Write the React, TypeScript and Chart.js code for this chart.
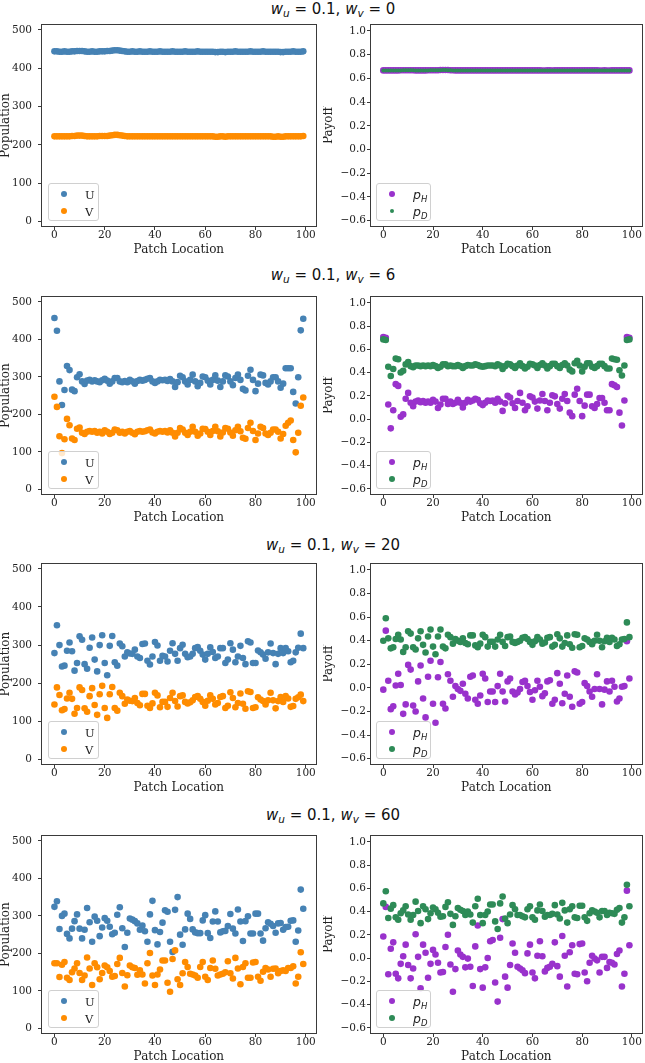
import React, { useEffect, useRef } from 'react';
import { Chart, registerables } from 'chart.js';

Chart.register(...registerables);

// ---------- data ----------
const PATCHES: number[] = Array.from({ length: 100 }, (_, i) => i);
const X_TICKS = [0, 20, 40, 60, 80, 100];
const POP_TICKS = [0, 100, 200, 300, 400, 500];
const PAY_TICKS = [-0.6, -0.4, -0.2, 0, 0.2, 0.4, 0.6, 0.8, 1.0];
const WV_VALUES = ['0', '6', '20', '60'];

const U_WV0 = [444,444,443,443,444,443,443,444,444,445,445,445,444,443,443,444,443,443,444,444,444,445,445,446,447,447,446,445,444,443,
  443,444,443,443,444,443,443,443,444,443,443,443,444,443,443,443,443,444,443,443,
  443,443,444,443,443,443,443,444,443,443,443,443,443,443,442,442,443,443,442,443,
  443,443,444,443,443,443,443,443,444,443,443,443,443,444,443,443,443,443,443,443,
  442,442,443,443,443,444,443,443,443,444];
const V_WV0 = [222,222,222,222,222,222,222,223,223,224,224,224,223,222,222,222,222,222,223,223,223,223,224,225,226,226,225,224,223,222,
  222,222,222,222,222,222,222,222,222,222,222,222,222,222,222,222,222,222,222,222,
  222,222,222,222,222,222,222,222,222,222,222,222,222,222,221,221,222,222,221,222,
  222,222,222,222,222,222,222,222,222,222,222,222,222,222,222,222,222,221,221,222,
  221,221,222,222,222,222,222,222,222,223];
const PH_WV0 = [0.667,0.667,0.667,0.667,0.667,0.667,0.667,0.668,0.668,0.669,0.669,0.669,0.668,0.667,0.667,0.667,0.667,0.667,0.668,0.668,0.668,0.668,0.669,0.670,0.671,0.671,0.670,0.669,0.668,0.667,
  0.667,0.667,0.667,0.667,0.667,0.667,0.667,0.667,0.667,0.667,0.667,0.667,0.667,0.667,0.667,0.667,0.667,0.667,0.667,0.667,
  0.667,0.667,0.667,0.667,0.667,0.667,0.667,0.667,0.667,0.667,0.667,0.667,0.667,0.667,0.666,0.666,0.667,0.667,0.666,0.667,
  0.667,0.667,0.667,0.667,0.667,0.667,0.667,0.667,0.667,0.667,0.667,0.667,0.667,0.667,0.667,0.667,0.667,0.666,0.666,0.667,
  0.666,0.666,0.667,0.667,0.667,0.667,0.667,0.667,0.667,0.667];
const PD_WV0 = [0.667,0.667,0.667,0.667,0.667,0.667,0.667,0.667,0.668,0.668,0.668,0.668,0.668,0.667,0.667,0.667,0.667,0.667,0.667,0.668,0.668,0.668,0.668,0.669,0.670,0.670,0.669,0.668,0.667,0.667,
  0.667,0.667,0.667,0.667,0.667,0.667,0.667,0.667,0.667,0.667,0.667,0.667,0.667,0.667,0.667,0.667,0.667,0.667,0.667,0.667,
  0.667,0.667,0.667,0.667,0.667,0.667,0.667,0.667,0.667,0.667,0.667,0.667,0.667,0.667,0.666,0.666,0.667,0.667,0.666,0.667,
  0.667,0.667,0.667,0.667,0.667,0.667,0.667,0.667,0.667,0.667,0.667,0.667,0.667,0.667,0.667,0.667,0.667,0.666,0.666,0.667,
  0.666,0.666,0.667,0.667,0.667,0.667,0.667,0.667,0.667,0.667];

const U_WV6 = [457,423,288,225,265,329,318,266,262,299,
  307,288,281,290,292,288,291,288,286,291,
  295,290,282,288,297,297,288,286,289,286,
  292,288,282,289,292,290,292,295,297,288,
  284,288,292,291,292,289,294,288,273,286,
  303,299,288,280,292,306,288,275,284,301,
  299,290,280,292,304,290,273,288,304,301,
  288,278,297,306,292,268,264,303,319,292,
  262,282,306,304,284,280,288,299,299,288,
  271,282,323,323,323,260,229,299,424,455];
const V_WV6 = [247,220,142,97,134,188,171,136,132,162,
  165,151,148,154,156,154,156,151,154,149,
  158,154,148,151,160,158,151,154,149,154,
  156,151,147,154,156,154,155,158,160,152,
  149,154,156,154,156,152,158,151,141,151,
  164,160,151,145,154,167,154,143,149,162,
  161,154,145,156,167,155,141,152,164,162,
  152,143,158,167,155,138,135,164,178,156,
  132,149,167,164,149,145,151,160,160,154,
  136,148,170,178,184,132,99,151,223,245];
const PH_WV6 = [0.705,0.70,0.125,-0.08,0.075,0.30,0.285,0.02,0.04,0.175,
  0.225,0.14,0.11,0.15,0.16,0.145,0.155,0.14,0.15,0.14,
  0.165,0.15,0.095,0.125,0.175,0.175,0.13,0.15,0.13,0.14,
  0.165,0.14,0.10,0.14,0.165,0.15,0.16,0.175,0.165,0.135,
  0.12,0.14,0.16,0.155,0.16,0.14,0.175,0.15,0.07,0.135,
  0.20,0.185,0.135,0.095,0.155,0.225,0.14,0.075,0.11,0.195,
  0.185,0.15,0.09,0.16,0.215,0.155,0.075,0.14,0.205,0.195,
  0.13,0.09,0.175,0.215,0.155,0.055,0.025,0.21,0.26,0.155,
  0.025,0.115,0.21,0.21,0.11,0.095,0.13,0.18,0.18,0.14,
  0.075,0.075,0.30,0.29,0.275,0.055,-0.055,0.16,0.705,0.70];
const PD_WV6 = [0.685,0.68,0.45,0.37,0.43,0.52,0.515,0.40,0.415,0.47,
  0.49,0.455,0.445,0.46,0.46,0.455,0.46,0.455,0.46,0.455,
  0.465,0.455,0.44,0.45,0.47,0.47,0.455,0.46,0.455,0.455,
  0.465,0.455,0.44,0.455,0.465,0.46,0.46,0.47,0.465,0.455,
  0.45,0.455,0.46,0.46,0.46,0.455,0.47,0.46,0.43,0.455,
  0.475,0.47,0.455,0.44,0.46,0.48,0.455,0.435,0.45,0.475,
  0.47,0.46,0.44,0.465,0.48,0.46,0.435,0.455,0.475,0.475,
  0.455,0.44,0.465,0.48,0.46,0.425,0.41,0.48,0.50,0.46,
  0.41,0.45,0.48,0.48,0.45,0.44,0.455,0.475,0.475,0.455,
  0.435,0.435,0.52,0.515,0.51,0.42,0.375,0.46,0.68,0.685];

const U_WV20 = [279,352,300,244,246,285,307,284,233,253,
  323,314,250,238,293,320,262,231,300,326,
  253,221,298,324,255,246,304,297,270,281,
  278,277,288,270,266,303,304,259,249,270,
  308,299,259,272,270,257,285,305,277,259,
  292,301,277,268,270,277,292,295,285,275,
  262,277,294,282,266,270,292,292,253,262,
  305,288,255,270,298,266,250,310,307,253,
  253,286,281,275,264,281,304,279,250,277,
  292,279,292,284,255,259,281,293,330,292];
const V_WV20 = [144,189,169,129,132,160,175,159,120,135,
  189,182,134,125,166,187,143,117,171,193,
  135,109,171,190,135,128,175,166,146,157,
  154,153,161,148,142,172,172,141,135,147,
  175,168,137,151,151,138,161,175,153,139,
  166,168,151,147,150,155,164,166,159,151,
  141,154,168,159,144,148,164,166,135,141,
  176,161,137,148,173,146,133,179,177,135,
  137,163,157,153,144,155,175,155,134,153,
  164,151,166,160,138,140,159,163,170,153];
const PH_WV20 = [-0.015,0.485,0.06,-0.18,-0.155,0.02,0.12,0.025,-0.22,-0.14,
  0.195,0.155,-0.15,-0.2,0.055,0.19,-0.09,-0.25,0.095,0.23,
  -0.135,-0.295,0.09,0.22,-0.135,-0.175,0.115,0.06,-0.075,0.015,
  -0.01,-0.025,0.035,-0.05,-0.09,0.095,0.105,-0.1,-0.135,-0.065,
  0.12,0.08,-0.12,-0.03,-0.03,-0.12,0.015,0.12,-0.03,-0.115,
  0.055,0.08,-0.03,-0.055,-0.04,-0.01,0.05,0.06,0.015,-0.035,
  -0.1,-0.02,0.06,0.01,-0.07,-0.045,0.055,0.065,-0.135,-0.1,
  0.125,0.035,-0.13,-0.05,0.105,-0.075,-0.16,0.14,0.13,-0.135,
  -0.12,0.04,0.015,-0.03,-0.075,-0.01,0.115,-0.01,-0.14,-0.015,
  0.055,-0.03,0.06,0.01,-0.115,-0.09,0.01,0.015,0.395,0.08];
const PD_WV20 = [0.40,0.59,0.42,0.335,0.345,0.415,0.45,0.41,0.305,0.345,
  0.48,0.46,0.345,0.325,0.42,0.48,0.365,0.30,0.435,0.495,
  0.35,0.285,0.435,0.495,0.35,0.335,0.45,0.43,0.375,0.415,
  0.40,0.39,0.42,0.38,0.37,0.445,0.445,0.36,0.345,0.375,
  0.45,0.43,0.35,0.39,0.39,0.35,0.41,0.45,0.39,0.355,
  0.43,0.435,0.39,0.38,0.39,0.40,0.425,0.43,0.415,0.39,
  0.365,0.395,0.43,0.41,0.375,0.385,0.425,0.43,0.35,0.365,
  0.455,0.42,0.35,0.38,0.445,0.37,0.34,0.455,0.45,0.345,
  0.355,0.42,0.41,0.39,0.37,0.40,0.45,0.40,0.345,0.395,
  0.425,0.39,0.425,0.41,0.355,0.37,0.41,0.415,0.555,0.43];

const U_WV60 = [324,339,265,300,306,252,240,266,286,304,
  266,240,263,321,283,231,298,287,246,269,
  294,287,271,251,255,303,323,267,217,255,
  293,290,286,280,263,274,259,231,304,340,
  262,224,257,282,315,311,231,204,316,350,
  250,223,264,306,292,264,256,254,254,288,
  302,254,241,285,312,285,256,259,260,273,
  305,266,253,317,285,233,286,299,253,253,
  306,306,253,234,267,283,279,273,255,280,
  281,263,270,271,287,288,231,261,370,319];
const V_WV60 = [174,174,137,170,177,135,129,150,160,174,
  148,129,141,189,160,116,174,163,131,148,
  168,163,153,138,140,172,188,148,112,142,
  168,163,161,143,155,144,120,174,201,141,
  116,144,157,181,181,122,98,185,208,131,
  116,147,177,164,146,144,141,135,164,177,
  138,129,161,181,159,141,144,146,150,179,
  147,133,188,160,118,164,174,135,135,176,
  177,138,127,151,161,157,138,159,160,147,
  153,155,153,161,161,166,120,138,203,172];
const PH_WV60 = [0.185,0.44,-0.14,0.08,0.135,-0.135,-0.175,-0.05,0.015,0.115,
  -0.06,-0.175,-0.09,0.205,0.01,-0.26,0.115,0.045,-0.17,-0.05,
  0.07,0.03,-0.04,-0.125,-0.12,0.095,0.20,-0.055,-0.29,-0.095,
  0.065,0.03,0.01,-0.08,-0.005,-0.075,-0.24,0.10,0.28,-0.095,
  -0.255,-0.08,0.0,0.145,0.155,-0.21,-0.375,0.175,0.335,-0.16,
  -0.255,-0.06,0.125,0.045,-0.075,-0.09,-0.105,-0.13,0.04,0.115,
  -0.125,-0.175,0.02,0.145,0.015,-0.115,-0.085,-0.075,-0.05,0.135,
  -0.07,-0.16,0.19,0.02,-0.245,0.05,0.11,-0.135,-0.14,0.12,
  0.125,-0.125,-0.2,-0.04,0.02,-0.005,-0.02,-0.125,0.01,0.01,
  -0.085,-0.035,-0.04,-0.055,0.035,0.065,-0.245,-0.135,0.58,0.11];
const PD_WV60 = [0.47,0.575,0.345,0.425,0.455,0.35,0.33,0.385,0.41,0.445,
  0.375,0.33,0.37,0.485,0.405,0.30,0.445,0.42,0.335,0.385,
  0.435,0.42,0.39,0.355,0.36,0.44,0.48,0.38,0.285,0.36,
  0.43,0.415,0.405,0.37,0.40,0.375,0.305,0.445,0.51,0.37,
  0.30,0.37,0.40,0.46,0.46,0.315,0.25,0.47,0.53,0.34,
  0.30,0.375,0.455,0.42,0.37,0.37,0.36,0.35,0.42,0.445,
  0.35,0.33,0.41,0.46,0.405,0.355,0.37,0.37,0.38,0.455,
  0.375,0.34,0.475,0.41,0.305,0.42,0.445,0.35,0.345,0.45,
  0.45,0.35,0.32,0.385,0.41,0.40,0.39,0.35,0.405,0.405,
  0.37,0.39,0.385,0.38,0.415,0.43,0.305,0.35,0.63,0.445];

const POP_ROWS = [[U_WV0, V_WV0], [U_WV6, V_WV6], [U_WV20, V_WV20], [U_WV60, V_WV60]];
const PAY_ROWS = [[PH_WV0, PD_WV0], [PH_WV6, PD_WV6], [PH_WV20, PD_WV20], [PH_WV60, PD_WV60]];

// ---------- styling / layout ----------
const C_U = '#4682b4';
const C_V = '#ff8c00';
const C_H = '#9932cc';
const C_D = '#2e8b57';
const INK = '#222';
const SPINE = '#3a3a3a';
const SERIF = '"DejaVu Serif", serif';
const SANS = '"DejaVu Sans", sans-serif';

const ROWS = [
  { top: 25, bottom: 226, titleY: 9 },
  { top: 297, bottom: 494, titleY: 275 },
  { top: 564, bottom: 764, titleY: 545 },
  { top: 836, bottom: 1033, titleY: 815 },
];
const PAD_TOP = 12;
const XAXIS_H = 30;

const framePlugin = {
  id: 'frame',
  afterDatasetsDraw(chart: any) {
    const { ctx, chartArea: a } = chart;
    const l = Math.round(a.left), t = Math.round(a.top), r = Math.round(a.right), b = Math.round(a.bottom);
    ctx.save();
    ctx.strokeStyle = SPINE;
    ctx.lineWidth = 1;
    ctx.strokeRect(l - 0.5, t - 0.5, r - l + 1, b - t + 1);
    ctx.restore();
  },
};

type SeriesDef = { label: string; data: number[]; color: string; radius: number; order: number };

function Panel(props: {
  left: number; top: number; width: number; height: number; yWidth: number; padRight: number;
  kind: 'pop' | 'pay'; series: SeriesDef[];
}) {
  const ref = useRef<HTMLCanvasElement>(null);
  const { left, top, width, height, yWidth, padRight, kind, series } = props;
  useEffect(() => {
    const isPop = kind === 'pop';
    const tickFont = { family: SERIF, size: 10.5, lineHeight: 1 };
    const chart = new Chart(ref.current as HTMLCanvasElement, {
      type: 'scatter',
      data: {
        datasets: series.map((s) => ({
          label: s.label,
          data: PATCHES.map((x, i) => ({ x, y: s.data[i] })),
          backgroundColor: s.color,
          borderColor: s.color,
          borderWidth: 0,
          pointRadius: s.radius,
          pointHoverRadius: s.radius,
          order: s.order,
        })),
      },
      options: {
        responsive: false,
        animation: false,
        events: [],
        layout: { padding: { top: PAD_TOP, right: padRight, bottom: 0, left: 0 } },
        plugins: { legend: { display: false }, tooltip: { enabled: false }, title: { display: false } },
        scales: {
          x: {
            type: 'linear',
            min: -4.95,
            max: 103.95,
            afterBuildTicks: (ax: any) => { ax.ticks = X_TICKS.map((v) => ({ value: v })); },
            afterFit: (ax: any) => { ax.height = XAXIS_H; },
            ticks: { font: tickFont, color: INK, padding: 0, maxRotation: 0, callback: (v: any) => String(v) },
            grid: { display: true, drawOnChartArea: false, drawTicks: true, tickLength: 4, color: SPINE },
            border: { display: false },
            title: { display: true, text: 'Patch Location', color: INK, padding: 0, font: { family: SERIF, size: 12, lineHeight: 1 } },
          },
          y: {
            type: 'linear',
            min: isPop ? -12 : -0.645,
            max: isPop ? 512 : 1.05,
            afterBuildTicks: (ax: any) => { ax.ticks = (isPop ? POP_TICKS : PAY_TICKS).map((v) => ({ value: v })); },
            afterFit: (ax: any) => { ax.width = yWidth; },
            ticks: {
              font: { family: SERIF, size: 10.5, lineHeight: 1.2 },
              color: INK,
              padding: isPop ? 6 : 1,
              callback: (v: any) => (isPop ? String(v) : Number(v).toFixed(1).replace('-', '\u2212')),
            },
            grid: { display: true, drawOnChartArea: false, drawTicks: true, tickLength: 4, color: SPINE },
            border: { display: false },
            title: { display: true, text: isPop ? 'Population' : 'Payoff', color: INK, padding: 0, font: { family: SERIF, size: 12, lineHeight: 1 } },
          },
        },
      } as any,
      plugins: [framePlugin],
    });
    return () => chart.destroy();
  }, []);
  return (
    <canvas
      ref={ref}
      width={width}
      height={height}
      style={{ position: 'absolute', left, top, width, height }}
    />
  );
}

function Dot({ color, r, cx, cy }: { color: string; r: number; cx: number; cy: number }) {
  return (
    <span style={{ position: 'absolute', left: cx - r, top: cy - r, width: 2 * r, height: 2 * r, borderRadius: '50%', background: color }} />
  );
}

function MathP({ sub }: { sub: string }) {
  return (
    <span style={{ fontFamily: SANS, fontSize: 12.5, fontStyle: 'italic' }}>
      p<span style={{ fontSize: 8.5, position: 'relative', top: 3 }}>{sub}</span>
    </span>
  );
}

function Legend(props: { left: number; bottom: number; width: number; kind: 'pop' | 'pay'; smallSecond: boolean }) {
  const { left, bottom, width, kind, smallSecond } = props;
  const h = 38;
  const rows = kind === 'pop'
    ? [{ c: C_U, r: 3.3, t: <span style={{ fontFamily: SERIF, fontSize: 11.5 }}>U</span> },
       { c: C_V, r: 3.3, t: <span style={{ fontFamily: SERIF, fontSize: 11.5 }}>V</span> }]
    : [{ c: C_H, r: 3.3, t: <MathP sub="H" /> },
       { c: C_D, r: smallSecond ? 2 : 3.3, t: <MathP sub="D" /> }];
  return (
    <div style={{
      position: 'absolute', left, top: bottom - h, width, height: h, boxSizing: 'border-box',
      background: 'rgba(255,255,255,0.8)', border: '1px solid #d0d0d0', borderRadius: 3,
    }}>
      {rows.map((row, i) => (
        <React.Fragment key={i}>
          <Dot color={row.c} r={row.r} cx={15} cy={10 + i * 17} />
          <div style={{ position: 'absolute', left: 36, top: i * 17 + 1, height: 18, lineHeight: '18px', color: INK, whiteSpace: 'nowrap' }}>
            {row.t}
          </div>
        </React.Fragment>
      ))}
    </div>
  );
}

function RowTitle({ y, wv }: { y: number; wv: string }) {
  const sub = { fontSize: 10.5, fontStyle: 'italic' as const, position: 'relative' as const, top: 3 };
  return (
    <div style={{
      position: 'absolute', left: 183, width: 300, top: y - 10, height: 20, lineHeight: '20px',
      textAlign: 'center', fontFamily: SANS, fontSize: 15, color: '#111', whiteSpace: 'nowrap',
    }}>
      <span style={{ fontStyle: 'italic' }}>w</span><span style={sub}>u</span> = 0.1,{' '}
      <span style={{ fontStyle: 'italic' }}>w</span><span style={sub}>v</span> = {wv}
    </div>
  );
}

export default function App() {
  return (
    <div style={{ position: 'absolute', left: 0, top: 0, width: 645, height: 1063, background: '#fff', overflow: 'hidden' }}>
      {ROWS.map((row, r) => {
        const canvasTop = row.top - PAD_TOP;
        const canvasH = row.bottom - row.top + PAD_TOP + XAXIS_H;
        const [u, v] = POP_ROWS[r];
        const [ph, pd] = PAY_ROWS[r];
        return (
          <React.Fragment key={r}>
            <RowTitle y={row.titleY} wv={WV_VALUES[r]} />
            <Panel
              left={0} top={canvasTop} width={319} height={canvasH} yWidth={42} padRight={3} kind="pop"
              series={[
                { label: 'U', data: u, color: C_U, radius: 3.3, order: 1 },
                { label: 'V', data: v, color: C_V, radius: 3.3, order: 0 },
              ]}
            />
            <Panel
              left={323} top={canvasTop} width={322} height={canvasH} yWidth={48} padRight={1} kind="pay"
              series={[
                { label: 'pH', data: ph, color: C_H, radius: 3.3, order: 1 },
                { label: 'pD', data: pd, color: C_D, radius: r === 0 ? 2 : 3.3, order: 0 },
              ]}
            />
            <Legend left={48} bottom={row.bottom - 5} width={51} kind="pop" smallSecond={false} />
            <Legend left={376} bottom={row.bottom - 5} width={55} kind="pay" smallSecond={r === 0} />
          </React.Fragment>
        );
      })}
    </div>
  );
}
